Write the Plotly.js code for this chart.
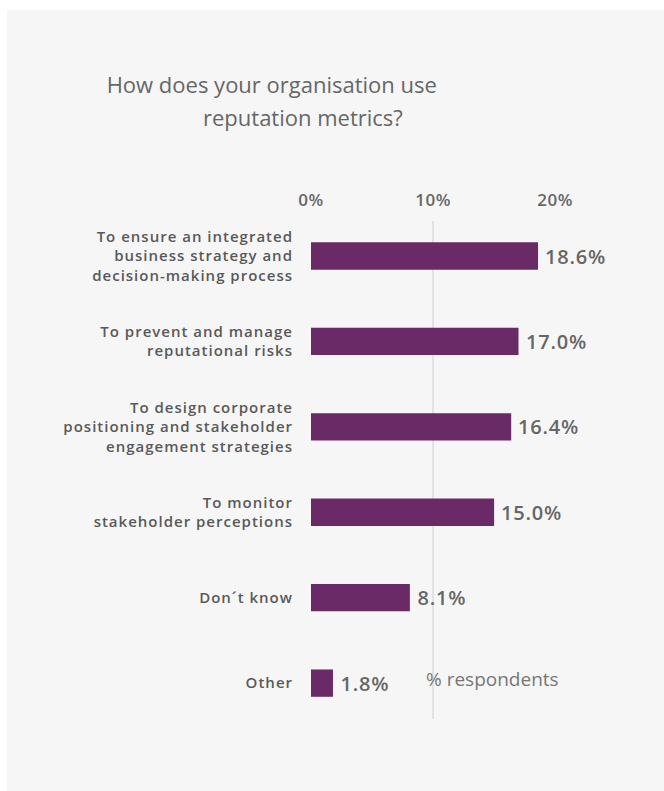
<!DOCTYPE html>
<html>
<head>
<meta charset="utf-8">
<script src="https://cdn.plot.ly/plotly-3.0.1.min.js"></script>
<style>
  html, body { margin: 0; padding: 0; background: #ffffff; }
  #chart { position: absolute; left: 7px; top: 10px; width: 657px; height: 781px; }
  #chart .ytick text { letter-spacing: 1px; }
  #chart .xtick text { letter-spacing: 0.5px; }
  #chart .annotation.value-label text { letter-spacing: 0.8px; }
</style>
</head>
<body>
<div id="chart"></div>
<script>
const categories = [
  "To ensure an integrated<br>business strategy and<br>decision-making process",
  "To prevent and manage<br>reputational risks",
  "To design corporate<br>positioning and stakeholder<br>engagement strategies",
  "To monitor<br>stakeholder perceptions",
  "Don´t know",
  "Other"
];
const values = [18.6, 17.0, 16.4, 15.0, 8.1, 1.8];
const valueLabels = ["18.6%", "17.0%", "16.4%", "15.0%", "8.1%", "1.8%"];
const tickValues = [0, 10, 20];
const tickLabels = ["0%", "10%", "20%"];

const FONT = "Open Sans, Lato, sans-serif";
const barColor = "#6a2a66";

const trace = {
  type: "bar",
  orientation: "h",
  x: values,
  y: categories,
  marker: { color: barColor, line: { width: 0 } },
  width: 0.32,
  hoverinfo: "skip"
};

const annotations = values.map((v, i) => ({
  x: v, y: categories[i], xref: "x", yref: "y",
  text: valueLabels[i], showarrow: false,
  xanchor: "left", yanchor: "middle", xshift: 7,
  font: { family: FONT, size: 20, color: "#666666", weight: 600 }
}));

annotations.push({
  x: 0.33, y: 0.080, xref: "paper", yref: "paper",
  text: "% respondents", showarrow: false,
  xanchor: "left", yanchor: "middle",
  font: { family: FONT, size: 19, color: "#777777" }
});
annotations.push({
  x: -0.023, y: 1.209, xref: "paper", yref: "paper",
  text: "reputation metrics?", showarrow: false,
  xanchor: "center", yanchor: "middle",
  font: { family: FONT, size: 22, color: "#666666", weight: 500 }
});

const layout = {
  width: 657, height: 781,
  paper_bgcolor: "#f6f6f6",
  plot_bgcolor: "#f6f6f6",
  margin: { l: 304, r: 10, t: 211, b: 72 },
  showlegend: false,
  title: {
    text: "How does your organisation use",
    xref: "container", yref: "container",
    x: 0.403, y: 0.904, xanchor: "center", yanchor: "middle",
    font: { family: FONT, size: 22, color: "#666666", weight: 500 }
  },
  xaxis: {
    side: "top",
    range: [0, 28.1],
    tickvals: tickValues,
    ticktext: tickLabels,
    showgrid: false, zeroline: false, showline: false,
    ticks: "", ticklabelstandoff: 11,
    tickfont: { family: FONT, size: 17, color: "#666666", weight: 600 },
    fixedrange: true
  },
  yaxis: {
    type: "category",
    range: [5.42, -0.41],
    showgrid: false, zeroline: false, showline: false,
    ticks: "", ticklabelstandoff: 17,
    tickfont: { family: FONT, size: 15, color: "#595959", weight: 600 },
    fixedrange: true
  },
  shapes: [{
    type: "line", xref: "x", yref: "paper",
    x0: 10, x1: 10, y0: 0, y1: 1,
    line: { color: "#e2e2e2", width: 2 },
    layer: "below"
  }],
  annotations: annotations
};

Plotly.newPlot("chart", [trace], layout, { displayModeBar: false, staticPlot: true }).then(() => {
  document.querySelectorAll("#chart .annotation").forEach((g, i) => {
    if (i < values.length) g.classList.add("value-label");
  });
});
</script>
</body>
</html>
